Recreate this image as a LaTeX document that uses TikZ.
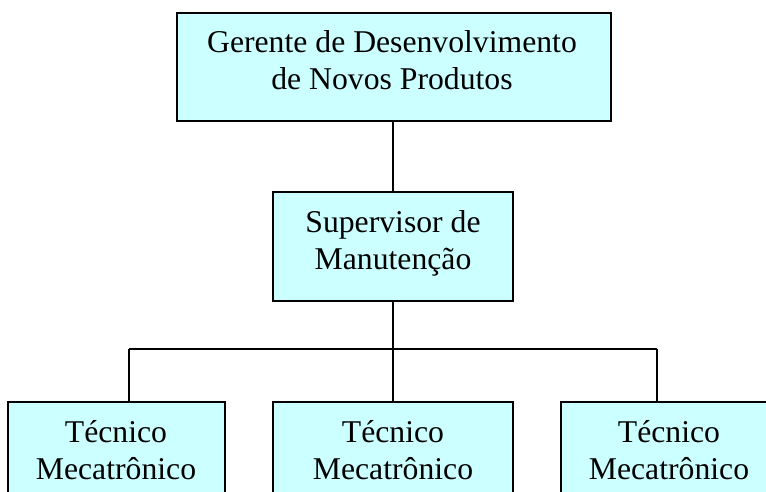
\documentclass[tikz,border=0pt]{standalone}
\usepackage{fontspec}
\setmainfont{Liberation Serif}
\definecolor{boxcyan}{HTML}{CCFFFF}
\begin{document}
\begin{tikzpicture}[x=1pt,y=-1pt,
  box/.style={draw=black, line width=2pt, fill=boxcyan, inner sep=0pt},
  lbl/.style={anchor=base, inner sep=0pt, font=\fontsize{31.7}{36}\selectfont},
  wire/.style={draw=black, line width=2pt}]
\useasboundingbox (0,0) rectangle (766,492);
\clip (0,0) rectangle (766,492);
% boxes
\node[box, minimum width=434pt, minimum height=108pt] (g) at (394,67.5) {};
\node[box, minimum width=240pt, minimum height=108.7pt] (s) at (393,246.7) {};
\node[box, minimum width=217pt, minimum height=140pt] (l) at (116.5,472) {};
\node[box, minimum width=240pt, minimum height=140pt] (m) at (393,472) {};
\node[box, minimum width=218pt, minimum height=140pt] (r) at (670,472) {};
% texts
\node[lbl] (g1) at (392,53) {Gerente de Desenvolvimento};
\node[lbl] (g2) at (392,90) {de Novos Produtos};
\node[lbl] (s1) at (393,232) {Supervisor de};
\node[lbl] (s2) at (393,269) {Manutenção};
\node[lbl] (l1) at (116,442) {Técnico};
\node[lbl] (l2) at (116,479) {Mecatrônico};
\node[lbl] (m1) at (393,442) {Técnico};
\node[lbl] (m2) at (393,479) {Mecatrônico};
\node[lbl] (r1) at (669,442) {Técnico};
\node[lbl] (r2) at (669,479) {Mecatrônico};
% connectors
\coordinate (bl) at (129,349);
\coordinate (br) at (657,349);
\draw[wire] (s.north |- g.south) -- (s.north);
\draw[wire] (s.south) -- (m.north);
\draw[wire] (bl) -- (br);
\draw[wire] (bl) -- (bl |- l.north);
\draw[wire] (br) -- (br |- r.north);
\end{tikzpicture}
\end{document}
